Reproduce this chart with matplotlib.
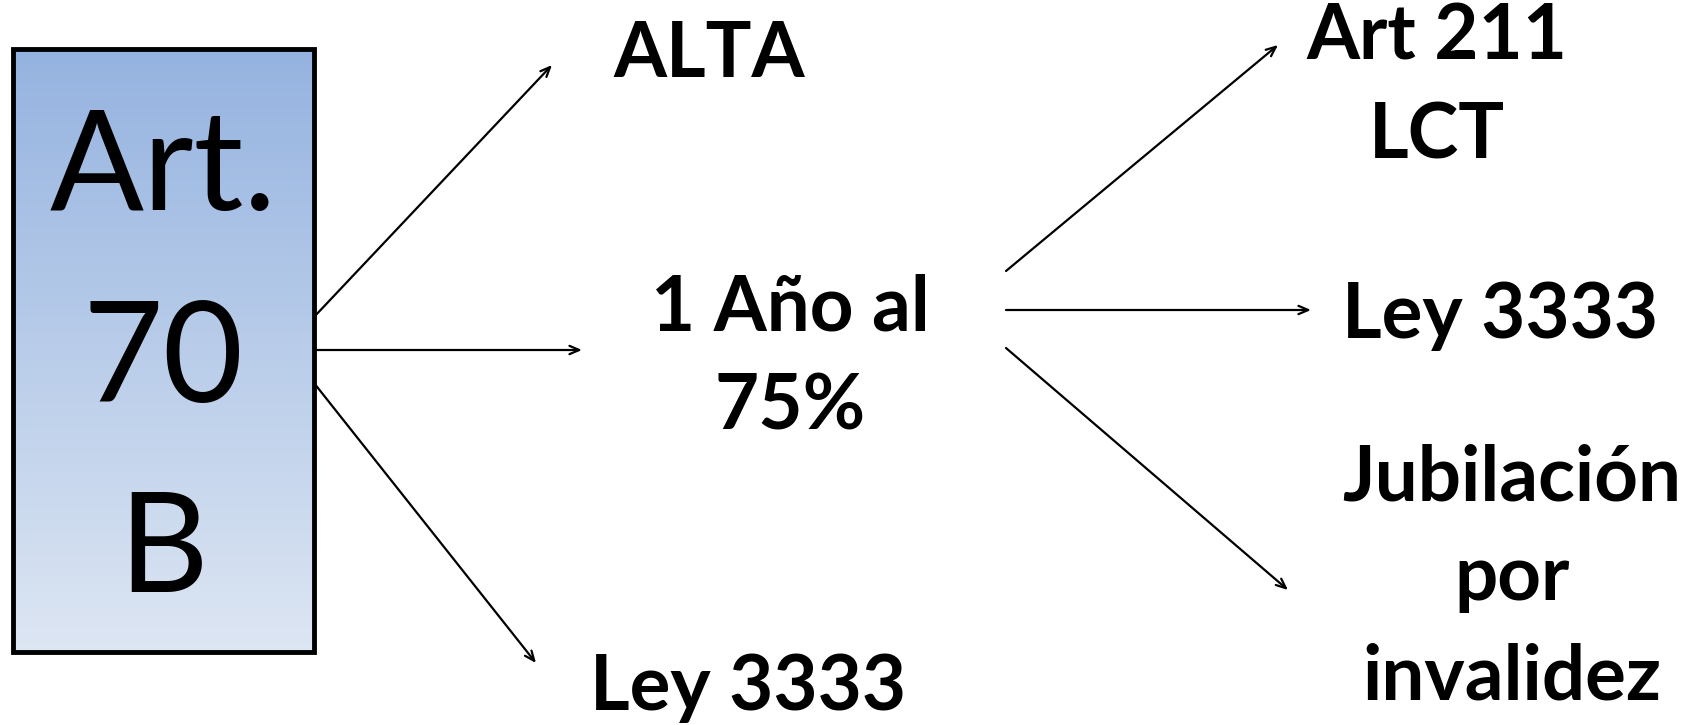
import numpy as np
import matplotlib.pyplot as plt
from matplotlib.colors import LinearSegmentedColormap

# textos del diagrama
box_lines = ["Art.", "70", "B"]
first_labels = ["ALTA", "1 Año al\n75%", "Ley 3333"]
second_labels = ["Art 211\nLCT", "Ley 3333", "Jubilación\npor\ninvalidez"]

# posiciones (pixeles de la imagen)
box_x = (13, 314)
box_y = (49, 652)
box_text_base = [210, 402, 592]
first_xy = [(709, 55), (790, 358), (748, 688)]
first_arrows = [((314, 317), (552, 65)), ((314, 350), (582, 350)), ((314, 383), (536, 663))]
second_xy = [(1437, 87), (1500, 316), (1512, 578)]
second_arrows = [((1006, 271), (1278, 45)), ((1006, 310), (1311, 310)), ((1006, 348), (1288, 590))]

W, H = 1704, 725
fig = plt.figure(figsize=(W / 100, H / 100), dpi=100)
ax = fig.add_axes([0, 0, 1, 1])

# caja con degradado
cmap = LinearSegmentedColormap.from_list("azul", ["#95b3e0", "#dde6f3"])
grad = np.linspace(0, 1, 256).reshape(-1, 1)
ax.imshow(grad, cmap=cmap, aspect="auto",
          extent=[box_x[0], box_x[1], box_y[1], box_y[0]], zorder=1)
ax.add_patch(plt.Rectangle((box_x[0], box_y[0]), box_x[1] - box_x[0], box_y[1] - box_y[0],
                           fill=False, ec="black", lw=3.5, zorder=2))
ax.set_xlim(0, W)
ax.set_ylim(H, 0)
ax.axis("off")

cx = (box_x[0] + box_x[1]) / 2
for t, y in zip(box_lines, box_text_base):
    ax.text(cx, y, t, ha="center", va="baseline", fontsize=100, family="Lato", zorder=3)

arrow_kw = dict(arrowstyle="->,head_length=0.7,head_width=0.3", lw=1.6, color="black",
                shrinkA=0, shrinkB=0)

for (start, end) in first_arrows + second_arrows:
    ax.annotate("", xy=end, xytext=start, arrowprops=arrow_kw)

for t, (x, y) in zip(first_labels + second_labels, first_xy + second_xy):
    ax.text(x, y, t, ha="center", va="center", fontsize=55, fontweight="bold",
            family="Lato", linespacing=1.52)

fig.savefig("out.png", dpi=100)
